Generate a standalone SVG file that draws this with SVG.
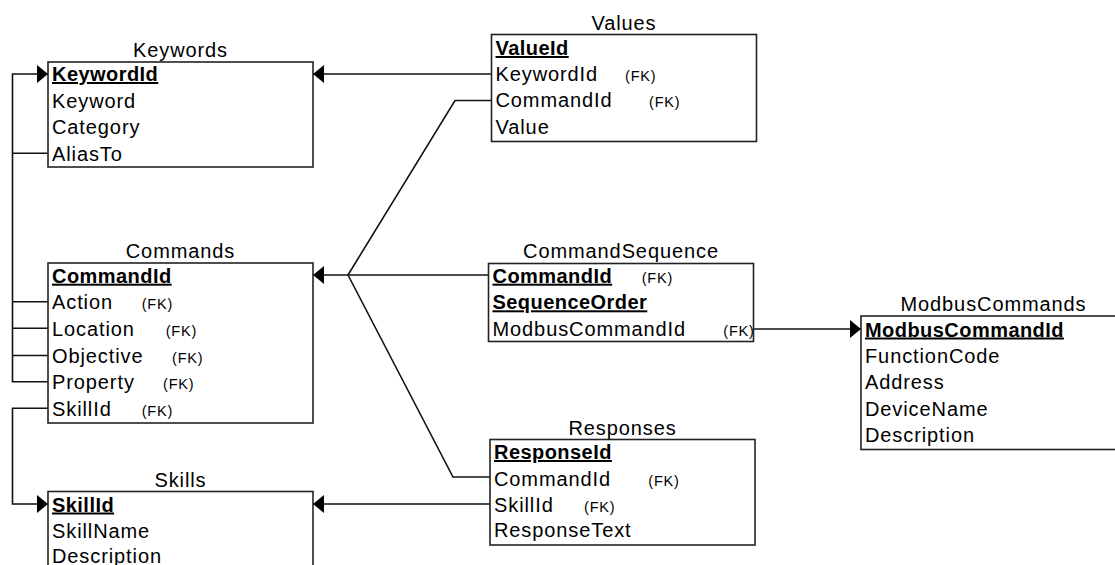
<svg xmlns="http://www.w3.org/2000/svg" width="1115" height="565" viewBox="0 0 1115 565">
<style>
text{font-family:"Liberation Sans",Arial,sans-serif;fill:#000}
.row{font-size:20px;letter-spacing:0.9px}
.pk{font-size:20px;font-weight:bold;letter-spacing:0.45px;text-decoration:underline}
.fk{font-size:14.5px;letter-spacing:0.8px}
.title{font-size:20px;letter-spacing:0.9px;text-anchor:middle}
.box{fill:#fff;stroke:#222;stroke-width:1.6}
.conn{fill:none;stroke:#111;stroke-width:1.6}
</style>
<defs>
<marker id="arr" markerUnits="userSpaceOnUse" markerWidth="12" markerHeight="20" viewBox="0 0 12 20" refX="11" refY="10" orient="auto">
<path d="M0,1 L11,10 L0,19 Z" fill="#000"/>
</marker>
</defs>
<rect width="1115" height="565" fill="#fff"/>

<g id="connectors">
<path class="conn" d="M491.5,74 L313,74" marker-end="url(#arr)"/>
<path class="conn" d="M48,153.3 L12.5,153.3 M48,301.7 L12.5,301.7 M48,328.3 L12.5,328.3 M48,355.5 L12.5,355.5 M48,381.7 L12.5,381.7 L12.5,74 L48,74" marker-end="url(#arr)"/>
<path class="conn" d="M48,408.3 L12.5,408.3 L12.5,504 L48,504" marker-end="url(#arr)"/>
<path class="conn" d="M491.5,100.5 L455,100.5 L348,275"/>
<path class="conn" d="M490,477 L453,477 L348,275"/>
<path class="conn" d="M488.5,275 L313,275" marker-end="url(#arr)"/>
<path class="conn" d="M490,504 L313,504" marker-end="url(#arr)"/>
<path class="conn" d="M753.5,329 L861,329" marker-end="url(#arr)"/>
</g>

<g id="keywords">
<text class="title" x="180.5" y="57">Keywords</text>
<rect class="box" x="48" y="62" width="265" height="105"/>
<text class="pk" x="52" y="81">KeywordId</text>
<text class="row" x="52" y="107.5">Keyword</text>
<text class="row" x="52" y="134">Category</text>
<text class="row" x="52" y="160.5">AliasTo</text>
</g>

<g id="commands">
<text class="title" x="180.5" y="258">Commands</text>
<rect class="box" x="48" y="263" width="265" height="160"/>
<text class="pk" x="52" y="282.7">CommandId</text>
<text class="row" x="52" y="309.3">Action</text><text class="fk" x="141.7" y="309.3">(FK)</text>
<text class="row" x="52" y="335.9">Location</text><text class="fk" x="165.7" y="335.9">(FK)</text>
<text class="row" x="52" y="362.5">Objective</text><text class="fk" x="172" y="362.5">(FK)</text>
<text class="row" x="52" y="389.1">Property</text><text class="fk" x="163" y="389.1">(FK)</text>
<text class="row" x="52" y="415.7">SkillId</text><text class="fk" x="141.7" y="415.7">(FK)</text>
</g>

<g id="skills">
<text class="title" x="180.5" y="486.7">Skills</text>
<rect class="box" x="48" y="491.5" width="265" height="82"/>
<text class="pk" x="52" y="511.5">SkillId</text>
<text class="row" x="52" y="537.5">SkillName</text>
<text class="row" x="52" y="563">Description</text>
</g>

<g id="values">
<text class="title" x="624" y="30">Values</text>
<rect class="box" x="491.5" y="34.5" width="265" height="107"/>
<text class="pk" x="495.5" y="55">ValueId</text>
<text class="row" x="495.5" y="81">KeywordId</text><text class="fk" x="625" y="81">(FK)</text>
<text class="row" x="495.5" y="107.3">CommandId</text><text class="fk" x="649" y="107.3">(FK)</text>
<text class="row" x="495.5" y="133.5">Value</text>
</g>

<g id="commandsequence">
<text class="title" x="621" y="258.3">CommandSequence</text>
<rect class="box" x="488.5" y="263.5" width="265" height="78"/>
<text class="pk" x="492.5" y="282.7">CommandId</text><text class="fk" x="641.7" y="282.7">(FK)</text>
<text class="pk" x="492.5" y="309.3">SequenceOrder</text>
<text class="row" x="492.5" y="335.5">ModbusCommandId</text><text class="fk" x="723.3" y="335.5">(FK)</text>
</g>

<g id="responses">
<text class="title" x="622.5" y="435">Responses</text>
<rect class="box" x="490" y="439.5" width="265" height="105.5"/>
<text class="pk" x="494" y="459">ResponseId</text>
<text class="row" x="494" y="485.5">CommandId</text><text class="fk" x="648.3" y="485.5">(FK)</text>
<text class="row" x="494" y="511.5">SkillId</text><text class="fk" x="584" y="511.5">(FK)</text>
<text class="row" x="494" y="537">ResponseText</text>
</g>

<g id="modbuscommands">
<text class="title" x="993.5" y="310.7">ModbusCommands</text>
<rect class="box" x="861" y="316" width="265" height="133.5"/>
<text class="pk" x="865" y="336.5">ModbusCommandId</text>
<text class="row" x="865" y="363">FunctionCode</text>
<text class="row" x="865" y="389.3">Address</text>
<text class="row" x="865" y="415.5">DeviceName</text>
<text class="row" x="865" y="442">Description</text>
</g>
</svg>
